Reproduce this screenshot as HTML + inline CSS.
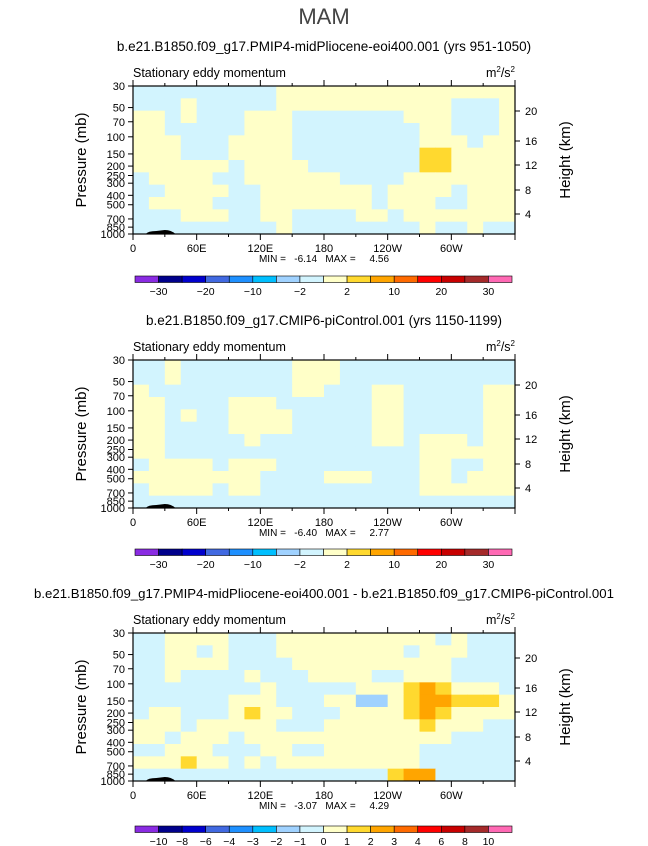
<!DOCTYPE html>
<html><head><meta charset="utf-8">
<style>
html,body{margin:0;padding:0;background:#fff;}
svg{display:block;font-family:"Liberation Sans",sans-serif;}
</style></head>
<body>
<svg id="fig" width="648" height="846" viewBox="0 0 648 846">
<text x="324" y="24" text-anchor="middle" font-size="22" fill="#444" font-weight="300">MAM</text>
</svg>
<script>
// Color levels
const levelsAbs = [-30,-25,-20,-15,-10,-5,-2,0,2,5,10,15,20,25,30];
const labelsAbs = ["-30","-20","-10","-2","2","10","20","30"];
const levelsDiff = [-10,-8,-6,-4,-3,-2,-1,0,1,2,3,4,6,8,10];
const labelsDiff = ["-10","-8","-6","-4","-3","-2","-1","0","1","2","3","4","6","8","10"];
const colors = ["#8a2be2","#00008b","#0000cd","#4169e1","#1e90ff","#00bfff","#a0d2ff","#d2f4fe","#ffffc8","#ffd92f","#ffa500","#ff6a00","#ff0000","#c80000","#a52a2a","#ff69b4"];
const lonTicks = ["0","60E","120E","180","120W","60W"];
const presTicks = [30,50,70,100,150,200,250,300,400,500,700,850,1000];
const heightTicks = ["4","8","12","16","20"];
// Panel 1 grid (rows top->bottom, 12 log-p rows x 24 lon columns of 15deg)
const p1r0=[-1,-1,-1,-1,-1,-1,-1,-1,-1,1,1,1,1,1,1,1,1,1,1,1,1,1,1,1];
const p1r1=[-1,-1,-1,1,-1,-1,-1,-1,-1,1,1,1,1,1,1,1,1,1,1,1,-1,-1,-1,1];
const p1r2=[1,1,-1,1,-1,-1,-1,1,1,1,-1,-1,-1,-1,-1,-1,-1,1,1,1,-1,-1,-1,1];
const p1r3=[1,1,-1,-1,-1,-1,-1,1,1,1,-1,-1,-1,-1,-1,-1,-1,-1,1,1,-1,-1,-1,1];
const p1r4=[1,1,1,-1,-1,-1,1,1,1,1,-1,-1,-1,-1,-1,-1,-1,-1,1,1,1,-1,1,1];
const p1r5=[1,1,1,-1,-1,-1,1,1,1,1,-1,-1,-1,-1,-1,-1,-1,-1,3,3,1,1,1,1];
const p1r6=[1,1,1,1,1,1,-1,1,1,1,1,-1,-1,-1,-1,-1,-1,-1,3,3,1,1,1,1];
const p1r7=[-1,1,1,1,1,-1,-1,1,1,1,1,1,1,-1,-1,-1,-1,1,1,1,1,1,1,1];
const p1r8=[-1,-1,1,1,1,1,-1,-1,1,1,1,1,1,1,1,-1,1,1,1,1,-1,1,1,1];
const p1r9=[-1,1,1,1,1,-1,-1,-1,1,1,1,1,1,1,1,-1,1,1,1,-1,-1,1,1,1];
const p1r10=[-1,-1,-1,1,1,1,-1,-1,1,1,-1,-1,-1,-1,1,1,-1,1,1,1,1,1,1,1];
const p1r11=[-1,-1,-1,-1,-1,-1,-1,-1,-1,1,-1,-1,-1,-1,-1,-1,-1,-1,1,-1,-1,1,-1,-1];
// Panel 2 grid
const p2r0=[-1,-1,1,-1,-1,-1,-1,-1,-1,-1,1,1,1,-1,-1,-1,-1,-1,-1,-1,-1,-1,-1,-1];
const p2r1=[-1,-1,1,-1,-1,-1,-1,-1,-1,-1,1,1,1,-1,-1,-1,-1,-1,-1,-1,-1,-1,-1,-1];
const p2r2=[1,-1,-1,-1,-1,-1,-1,-1,-1,-1,1,1,-1,-1,-1,1,1,-1,-1,-1,-1,-1,1,1];
const p2r3=[1,1,-1,-1,-1,-1,1,1,1,-1,-1,-1,-1,-1,-1,1,1,-1,-1,-1,-1,-1,1,1];
const p2r4=[1,1,-1,1,-1,-1,1,1,1,1,-1,-1,-1,-1,-1,1,1,-1,-1,-1,-1,-1,1,1];
const p2r5=[1,1,-1,-1,-1,-1,1,1,1,1,-1,-1,-1,-1,-1,1,1,-1,-1,-1,-1,-1,1,1];
const p2r6=[1,1,-1,-1,-1,-1,-1,1,-1,-1,-1,-1,-1,-1,-1,1,1,-1,1,1,1,-1,1,1];
const p2r7=[1,1,-1,-1,-1,-1,-1,-1,-1,-1,-1,-1,-1,-1,-1,-1,-1,-1,1,1,1,1,1,1];
const p2r8=[-1,1,1,1,1,-1,1,1,1,-1,-1,-1,-1,-1,-1,-1,-1,-1,1,1,-1,-1,1,1];
const p2r9=[1,1,1,1,1,1,1,1,-1,-1,-1,-1,1,1,1,-1,-1,-1,1,1,-1,1,1,1];
const p2r10=[-1,1,1,1,1,-1,1,1,-1,-1,-1,-1,-1,-1,-1,-1,-1,-1,1,1,1,1,1,1];
const p2r11=[-1,-1,-1,-1,-1,-1,-1,-1,-1,-1,-1,-1,-1,-1,-1,-1,-1,-1,-1,-1,-1,-1,-1,-1];
// Panel 3 grid (difference)
const p3r0=[-0.5,-0.5,0.5,0.5,0.5,0.5,-0.5,-0.5,-0.5,0.5,0.5,0.5,0.5,0.5,0.5,0.5,0.5,0.5,0.5,-0.5,0.5,-0.5,-0.5,-0.5];
const p3r1=[-0.5,-0.5,0.5,0.5,-0.5,0.5,-0.5,-0.5,-0.5,0.5,0.5,0.5,0.5,0.5,0.5,0.5,0.5,-0.5,0.5,0.5,0.5,-0.5,-0.5,-0.5];
const p3r2=[-0.5,-0.5,0.5,0.5,0.5,0.5,-0.5,-0.5,-0.5,-0.5,0.5,0.5,0.5,0.5,0.5,0.5,0.5,0.5,0.5,0.5,-0.5,-0.5,-0.5,-0.5];
const p3r3=[-0.5,-0.5,0.5,-0.5,-0.5,-0.5,-0.5,0.5,-0.5,-0.5,-0.5,0.5,0.5,0.5,0.5,-0.5,-0.5,0.5,0.5,0.5,-0.5,-0.5,-0.5,-0.5];
const p3r4=[-0.5,-0.5,-0.5,-0.5,-0.5,-0.5,-0.5,-0.5,0.5,-0.5,-0.5,-0.5,-0.5,-0.5,0.5,0.5,0.5,1.5,2.5,1.5,0.5,0.5,0.5,-0.5];
const p3r5=[-0.5,-0.5,-0.5,-0.5,-0.5,-0.5,0.5,0.5,0.5,-0.5,-0.5,-0.5,0.5,0.5,-1.5,-1.5,0.5,1.5,2.5,2.5,1.5,1.5,1.5,0.5];
const p3r6=[-0.5,0.5,0.5,-0.5,-0.5,-0.5,0.5,1.5,0.5,0.5,-0.5,-0.5,-0.5,0.5,0.5,0.5,0.5,1.5,2.5,1.5,0.5,0.5,0.5,0.5];
const p3r7=[0.5,0.5,0.5,-0.5,0.5,0.5,0.5,0.5,0.5,-0.5,-0.5,-0.5,0.5,0.5,0.5,0.5,0.5,0.5,1.5,0.5,0.5,0.5,-0.5,-0.5];
const p3r8=[0.5,0.5,-0.5,0.5,0.5,0.5,-0.5,0.5,0.5,0.5,0.5,0.5,0.5,0.5,0.5,0.5,0.5,0.5,0.5,0.5,-0.5,-0.5,-0.5,-0.5];
const p3r9=[-0.5,-0.5,0.5,0.5,0.5,-0.5,-0.5,-0.5,0.5,0.5,-0.5,-0.5,0.5,0.5,0.5,0.5,0.5,0.5,-0.5,-0.5,-0.5,-0.5,-0.5,-0.5];
const p3r10=[0.5,0.5,0.5,1.5,0.5,0.5,-0.5,0.5,-0.5,0.5,0.5,0.5,0.5,0.5,0.5,0.5,0.5,0.5,-0.5,-0.5,-0.5,-0.5,-0.5,-0.5];
const p3r11=[-0.5,-0.5,-0.5,-0.5,-0.5,-0.5,-0.5,-0.5,-0.5,-0.5,-0.5,-0.5,-0.5,-0.5,-0.5,-0.5,1.5,2.5,2.5,-0.5,-0.5,-0.5,-0.5,-0.5];

const grid1=[p1r0,p1r1,p1r2,p1r3,p1r4,p1r5,p1r6,p1r7,p1r8,p1r9,p1r10,p1r11];
const grid2=[p2r0,p2r1,p2r2,p2r3,p2r4,p2r5,p2r6,p2r7,p2r8,p2r9,p2r10,p2r11];
const grid3=[p3r0,p3r1,p3r2,p3r3,p3r4,p3r5,p3r6,p3r7,p3r8,p3r9,p3r10,p3r11];
const titles=["b.e21.B1850.f09_g17.PMIP4-midPliocene-eoi400.001 (yrs 951-1050)","b.e21.B1850.f09_g17.CMIP6-piControl.001 (yrs 1150-1199)","b.e21.B1850.f09_g17.PMIP4-midPliocene-eoi400.001 - b.e21.B1850.f09_g17.CMIP6-piControl.001"];
const minVals=["-6.14","-6.40","-3.07"];
const maxVals=["4.56","2.77","4.29"];

const NS="http://www.w3.org/2000/svg";
const svg=document.getElementById('fig');
function mk(tag,attrs,parent){const e=document.createElementNS(NS,tag);for(const k in attrs)e.setAttribute(k,attrs[k]);(parent||svg).appendChild(e);return e;}
function colorFor(v,levels){let i=0;while(i<levels.length&&v>=levels[i])i++;return colors[i];}

const X0=133,X1=515,H=148;
const xScale=lon=>X0+(lon/360)*(X1-X0);
const pScale=(p,top)=>top+Math.log(p/30)/Math.log(1000/30)*H;
const heightOffsets=[128,104,79,55,25];

function panel(idx,top,grid,levels,labels,titleSize,titleY,cbTop){
  const g=mk('g',{});
  
  
  const t=mk('text',{x:324,y:titleY,'text-anchor':'middle','font-size':titleSize,fill:'#000'},g);
  t.textContent=titles[idx];
  
  
  const st=mk('text',{x:X0,y:top-9,'font-size':12.5,fill:'#000'},g);
  st.textContent='Stationary eddy momentum';
  
  
  const un=mk('text',{x:X1,y:top-9,'text-anchor':'end','font-size':12.5,fill:'#000'},g);
  un.innerHTML='m<tspan dy="-5" font-size="8">2</tspan><tspan dy="5">/s</tspan><tspan dy="-5" font-size="8">2</tspan>';
  
  
  // cells
  const nr=grid.length,nc=grid[0].length;
  const lp0=Math.log(30),lp1=Math.log(1000);
  for(let r=0;r<nr;r++){
    const pa=Math.exp(lp0+(lp1-lp0)*r/nr),pb=Math.exp(lp0+(lp1-lp0)*(r+1)/nr);
    const ya=pScale(pa,top),yb=pScale(pb,top);
    for(let c=0;c<nc;c++){
      const xa=xScale(c*360/nc),xb=xScale((c+1)*360/nc);
      const cell=mk('rect',{x:xa,y:ya,width:xb-xa+0.4,height:yb-ya+0.4,fill:colorFor(grid[r][c],levels)},g);
      
      
    }
  }
  // topography
  const topo=mk('path',{d:`M${xScale(12)} ${top+H} Q${xScale(14)} ${top+H-3} ${xScale(22)} ${top+H-3} L${xScale(30)} ${top+H-4} Q${xScale(36)} ${top+H-4} ${xScale(40)} ${top+H} Z`,fill:'#000'},g);
  
  
  // frame
  const fr=mk('rect',{x:X0,y:top,width:X1-X0,height:H,fill:'none',stroke:'#000','stroke-width':1.2},g);
  
  
  // lon ticks
  for(let lon=0;lon<=360;lon+=30){
    const x=xScale(lon),major=lon%60===0,len=major?6:3;
    mk('line',{x1:x,y1:top,x2:x,y2:top-len,stroke:'#000'},g);
    mk('line',{x1:x,y1:top+H,x2:x,y2:top+H+len,stroke:'#000'},g);
    if(major&&lon<360){
      const lt=mk('text',{x:x,y:top+H+18,'text-anchor':'middle','font-size':11},g);
      lt.textContent=lonTicks[lon/60];
      
      
    }
  }
  presTicks.forEach(p=>{
    const y=pScale(p,top);
    mk('line',{x1:X0,y1:y,x2:X0-5,y2:y,stroke:'#000'},g);
    const pt=mk('text',{x:X0-8,y:y+4,'text-anchor':'end','font-size':11},g);
    pt.textContent=p;
    
    
  });
  heightTicks.forEach((h,i)=>{
    const y=top+heightOffsets[i];
    mk('line',{x1:X1,y1:y,x2:X1+5,y2:y,stroke:'#000'},g);
    const ht=mk('text',{x:X1+10,y:y+4,'font-size':11},g);
    ht.textContent=h;
    
    
  });
  const ya=mk('text',{x:0,y:0,'font-size':15,'text-anchor':'middle',transform:`translate(86 ${top+H/2}) rotate(-90)`},g);
  ya.textContent='Pressure  (mb)';
  
  
  const yr=mk('text',{x:0,y:0,'font-size':15,'text-anchor':'middle',transform:`translate(570 ${top+H/2}) rotate(-90)`},g);
  yr.textContent='Height  (km)';
  
  
  const mm=mk('text',{x:324,y:top+H+28,'text-anchor':'middle','font-size':10},g);
  mm.textContent='MIN =   '+minVals[idx]+'   MAX =     '+maxVals[idx];
  mm.setAttribute('xml:space','preserve');
  mm.style.whiteSpace='pre';
  
  
  // colorbar
  const cb=mk('g',{},g);
  
  
  const cx0=135,cw=(512-135)/16;
  for(let i=0;i<16;i++){
    const r=mk('rect',{x:cx0+i*cw,y:cbTop,width:cw,height:6.5,fill:colors[i],stroke:'#000','stroke-width':0.6},cb);
    
    
  }
  const step=levels.length/labels.length>1.5?2:1;
  labels.forEach((l,i)=>{
    const bi=i*step;
    const lt=mk('text',{x:cx0+(bi+1)*cw,y:cbTop+19,'text-anchor':'middle','font-size':10.5},cb);
    lt.textContent=l.replace('-','\u2212');
    
    
  });
}
panel(0,86,grid1,levelsAbs,labelsAbs,13.5,51,276);
panel(1,360,grid2,levelsAbs,labelsAbs,13.5,325,549);
panel(2,633,grid3,levelsDiff,labelsDiff,13.2,598,826);
</script>
</body></html>
